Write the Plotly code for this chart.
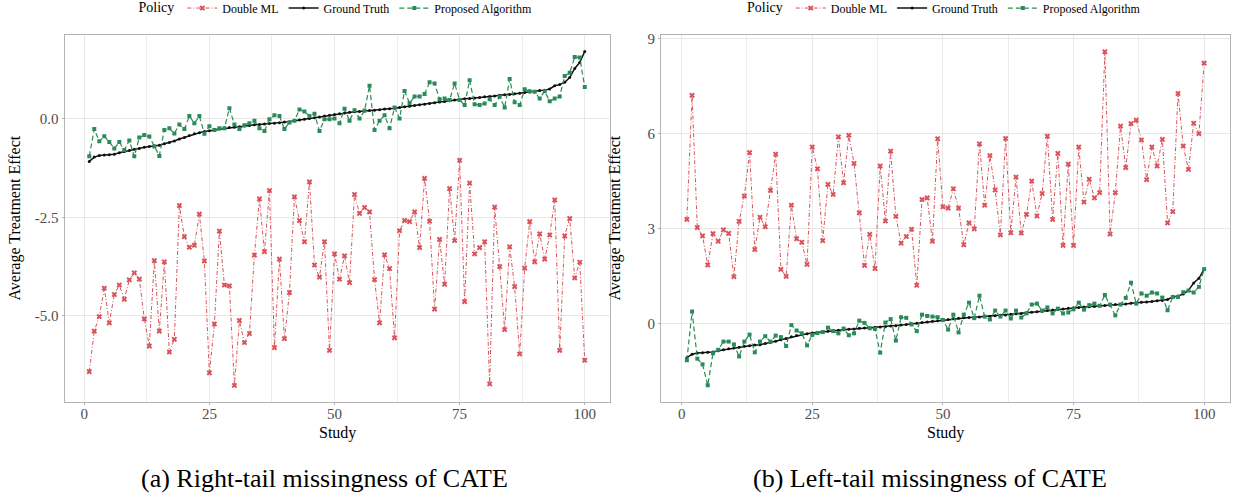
import plotly.graph_objects as go

study = list(range(1, 101))

truth = [-1.08, -0.97, -0.93, -0.92, -0.91, -0.90, -0.86, -0.83, -0.80, -0.77,
         -0.75, -0.72, -0.70, -0.68, -0.67, -0.63, -0.60, -0.56, -0.51, -0.47,
         -0.42, -0.38, -0.35, -0.32, -0.30, -0.28, -0.26, -0.24, -0.22, -0.21,
         -0.20, -0.18, -0.17, -0.15, -0.14, -0.13, -0.12, -0.11, -0.10, -0.08,
         -0.07, -0.05, -0.03, -0.01, 0.01, 0.03, 0.05, 0.07, 0.09, 0.11,
         0.13, 0.15, 0.17, 0.18, 0.19, 0.20, 0.21, 0.22, 0.23, 0.25,
         0.26, 0.27, 0.29, 0.31, 0.32, 0.34, 0.36, 0.37, 0.39, 0.41,
         0.43, 0.44, 0.46, 0.48, 0.50, 0.51, 0.52, 0.53, 0.54, 0.56,
         0.57, 0.58, 0.60, 0.61, 0.62, 0.64, 0.65, 0.67, 0.68, 0.70,
         0.72, 0.73, 0.76, 0.84, 0.87, 0.93, 1.05, 1.28, 1.43, 1.71]

dml_right_tail = [-6.42, -5.39, -5.02, -4.30, -5.18, -4.46, -4.22, -4.58, -4.09, -3.91,
                  -4.07, -5.08, -5.77, -3.60, -5.39, -3.63, -5.92, -5.60, -2.20, -2.99,
                  -3.26, -3.21, -2.42, -3.61, -6.45, -5.21, -2.85, -4.22, -4.24, -6.77,
                  -5.12, -5.68, -5.45, -3.46, -2.03, -3.37, -1.82, -5.81, -3.56, -5.58,
                  -4.41, -1.98, -2.58, -3.12, -1.60, -3.71, -4.02, -3.12, -5.88, -3.43,
                  -4.07, -3.48, -4.16, -1.92, -2.40, -2.25, -2.36, -4.08, -5.18, -3.45,
                  -3.80, -5.56, -2.84, -2.58, -2.61, -2.36, -3.27, -1.51, -2.60, -4.83,
                  -3.06, -4.20, -1.77, -3.09, -1.05, -4.64, -1.63, -3.43, -3.27, -3.12,
                  -6.73, -2.24, -3.75, -5.35, -3.25, -4.26, -5.97, -3.79, -2.61, -3.63,
                  -2.92, -3.56, -2.95, -2.06, -5.88, -2.97, -2.53, -4.04, -3.64, -6.13]

prop_right_tail = [-0.95, -0.26, -0.57, -0.44, -0.59, -0.75, -0.59, -0.79, -0.55, -0.95,
                   -0.47, -0.41, -0.45, -0.70, -0.94, -0.28, -0.24, -0.37, -0.14, -0.26,
                   0.07, -0.11, 0.07, -0.38, -0.19, -0.28, -0.24, -0.24, 0.27, -0.14,
                   -0.26, -0.16, -0.11, -0.05, -0.24, -0.31, -0.01, 0.09, 0.07, -0.26,
                   -0.09, -0.05, 0.24, 0.19, 0.07, 0.13, -0.31, -0.01, -0.01, 0.01,
                   -0.11, 0.26, -0.05, 0.22, 0.01, 0.21, 0.84, -0.28, -0.05, 0.09,
                   -0.24, 0.29, 0.01, 0.71, 0.40, 0.57, 0.57, 0.63, 0.93, 0.90,
                   0.50, 0.52, 0.48, 0.90, 0.48, 0.35, 0.98, 0.37, 0.35, 0.39,
                   0.50, 0.35, 0.56, 0.29, 1.01, 0.42, 0.35, 0.75, 0.70, 0.69,
                   0.52, 0.70, 0.45, 0.52, 0.57, 1.09, 1.17, 1.57, 1.56, 0.81]

dml_left_tail = [3.29, 7.21, 3.03, 2.77, 1.85, 2.84, 2.60, 2.96, 2.85, 1.48,
                 3.23, 4.03, 5.40, 2.34, 3.36, 3.06, 4.21, 5.35, 1.71, 1.49,
                 3.74, 2.68, 2.57, 1.87, 5.58, 4.89, 2.62, 4.40, 4.08, 5.90,
                 4.45, 5.95, 5.06, 3.50, 1.84, 2.82, 1.74, 4.98, 3.24, 5.45,
                 3.39, 2.54, 2.75, 2.98, 1.21, 3.92, 3.97, 2.60, 5.84, 3.69,
                 3.65, 4.26, 3.65, 2.49, 3.18, 2.99, 5.68, 3.74, 5.31, 4.22,
                 2.80, 5.85, 2.87, 4.63, 2.86, 3.45, 4.50, 3.40, 4.11, 5.92,
                 3.29, 5.38, 2.47, 5.04, 2.47, 5.58, 3.84, 4.56, 3.97, 4.14,
                 8.59, 2.83, 4.14, 6.24, 4.93, 6.32, 6.43, 5.80, 4.55, 5.58,
                 4.98, 5.82, 3.18, 3.54, 7.27, 5.61, 4.87, 6.33, 6.00, 8.23]

prop_left_tail = [-1.16, 0.38, -1.11, -1.29, -1.95, -0.94, -0.83, -0.57, -0.57, -0.66,
                  -1.04, -0.57, -0.35, -0.91, -0.57, -0.40, -0.57, -0.38, -0.43, -0.71,
                  -0.05, -0.22, -0.31, -0.69, -0.36, -0.30, -0.27, -0.13, -0.24, -0.31,
                  -0.16, -0.37, -0.31, 0.09, 0.02, -0.15, -0.17, -0.92, 0.03, 0.14,
                  -0.54, 0.20, 0.18, -0.03, -0.24, 0.28, 0.24, 0.22, 0.20, 0.11,
                  -0.19, 0.28, -0.28, 0.28, 0.66, 0.17, 0.88, 0.22, 0.13, 0.41,
                  0.22, 0.41, 0.16, 0.41, 0.19, 0.32, 0.60, 0.63, 0.41, 0.51,
                  0.32, 0.47, 0.32, 0.35, 0.45, 0.66, 0.44, 0.58, 0.63, 0.56,
                  0.90, 0.60, 0.26, 0.60, 0.81, 1.29, 0.63, 0.95, 0.88, 0.98,
                  0.95, 0.82, 0.42, 0.84, 0.84, 0.99, 1.04, 0.98, 1.16, 1.72]

x_ticks = [0, 25, 50, 75, 100]
x_minor = [12.5, 37.5, 62.5, 87.5]
y_ticks_a = [-5.0, -2.5, 0.0]
y_labels_a = ["-5.0", "-2.5", "0.0"]
y_ticks_b = [0, 3, 6, 9]
y_labels_b = ["0", "3", "6", "9"]
captions = ["(a) Right-tail missingness of CATE", "(b) Left-tail missingness of CATE"]

RED = "#d9545a"
GREEN = "#2a8a58"
BLACK = "#111111"
FONT = "Liberation Serif"
W, H = 1233, 497

fig = go.Figure()

def add_panel(dml, prop, xa, ya, leg):
    fig.add_trace(go.Scatter(x=study, y=dml, name="Double ML", mode="lines+markers",
                             line=dict(color=RED, width=1, dash="4px,2px,1px,2px"),
                             marker=dict(symbol="x", size=5, color=RED),
                             xaxis=xa, yaxis=ya, legend=leg))
    fig.add_trace(go.Scatter(x=study, y=truth, name="Ground Truth", mode="lines+markers",
                             line=dict(color=BLACK, width=1.5),
                             marker=dict(symbol="circle", size=3, color=BLACK),
                             xaxis=xa, yaxis=ya, legend=leg))
    fig.add_trace(go.Scatter(x=study, y=prop, name="Proposed Algorithm", mode="lines+markers",
                             line=dict(color=GREEN, width=1.2, dash="5px,3px"),
                             marker=dict(symbol="square", size=4, color=GREEN),
                             xaxis=xa, yaxis=ya, legend=leg))

add_panel(dml_right_tail, prop_right_tail, "x", "y", "legend")
add_panel(dml_left_tail, prop_left_tail, "x2", "y2", "legend2")

xdom1 = [64.5 / W, 609.5 / W]
xdom2 = [661 / W, 1230 / W]
ydom = [(H - 402) / H, (H - 35) / H]

axis_common = dict(showline=True, mirror=True, linecolor="#b3b3b3", linewidth=1,
                   gridcolor="#e8e8e8", gridwidth=1, zeroline=False,
                   ticks="outside", ticklen=2, tickcolor="#b3b3b3",
                   tickfont=dict(family=FONT, size=15, color="#4d4d4d"))

fig.update_layout(
    width=W, height=H,
    margin=dict(l=0, r=0, t=0, b=0, autoexpand=False),
    paper_bgcolor="white", plot_bgcolor="white",
    font=dict(family=FONT, color="black"),
    xaxis=dict(domain=xdom1, range=[-3.95, 104.95], tickvals=x_ticks, anchor="y",
               ticklabelstandoff=-4,
               minor=dict(tickvals=x_minor, showgrid=True, gridcolor="#ececec", ticks=""),
               **axis_common),
    yaxis=dict(domain=ydom, range=[-7.19, 2.13], tickvals=y_ticks_a, ticktext=y_labels_a,
               anchor="x", **axis_common),
    xaxis2=dict(domain=xdom2, range=[-3.95, 104.95], tickvals=x_ticks, anchor="y2",
                ticklabelstandoff=-4,
                minor=dict(tickvals=x_minor, showgrid=True, gridcolor="#ececec", ticks=""),
                **axis_common),
    yaxis2=dict(domain=ydom, range=[-2.48, 9.12], tickvals=y_ticks_b, ticktext=y_labels_b,
                anchor="x2", **axis_common),
    legend=dict(orientation="h", x=sum(xdom1) / 2, xanchor="center", y=1.013, yanchor="top",
                title=dict(text="Policy", side="left"), font=dict(family=FONT, size=12),
                bgcolor="rgba(0,0,0,0)", itemwidth=30),
    legend2=dict(orientation="h", x=sum(xdom2) / 2, xanchor="center", y=1.013, yanchor="top",
                 title=dict(text="Policy", side="left"), font=dict(family=FONT, size=12),
                 bgcolor="rgba(0,0,0,0)", itemwidth=30),
)

ann = []
for dom in (xdom1, xdom2):
    ann.append(dict(text="Study", x=sum(dom) / 2, y=(H - 433) / H, xref="paper", yref="paper",
                    showarrow=False, font=dict(family=FONT, size=16, color="black"),
                    xanchor="center", yanchor="middle"))
ann.append(dict(text="Average Treatment Effect", x=14 / W, y=sum(ydom) / 2, xref="paper",
                yref="paper", textangle=-90, showarrow=False,
                font=dict(family=FONT, size=16, color="black"), xanchor="center", yanchor="middle"))
ann.append(dict(text="Average Treatment Effect", x=614 / W, y=sum(ydom) / 2, xref="paper",
                yref="paper", textangle=-90, showarrow=False,
                font=dict(family=FONT, size=16, color="black"), xanchor="center", yanchor="middle"))
ann.append(dict(text=captions[0], x=324 / W, y=(H - 478) / H, xref="paper", yref="paper",
                showarrow=False, font=dict(family=FONT, size=26, color="black"),
                xanchor="center", yanchor="middle"))
ann.append(dict(text=captions[1], x=930 / W, y=(H - 478) / H, xref="paper", yref="paper",
                showarrow=False, font=dict(family=FONT, size=26, color="black"),
                xanchor="center", yanchor="middle"))
fig.update_layout(annotations=ann)

fig.write_html("out.html")
